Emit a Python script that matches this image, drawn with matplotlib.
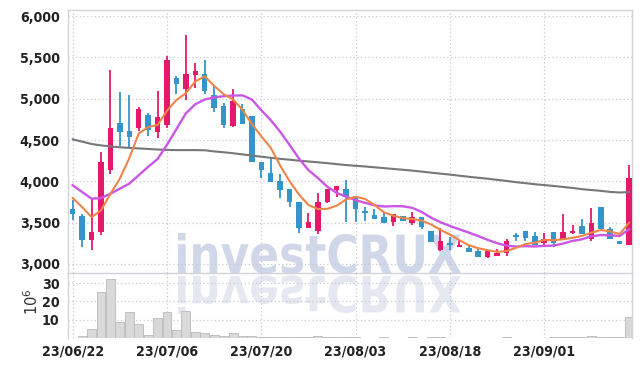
import numpy as np
import matplotlib
matplotlib.use('Agg')
import matplotlib.pyplot as plt
from matplotlib.textpath import TextPath
from matplotlib.patches import PathPatch
from matplotlib.font_manager import FontProperties
from matplotlib.transforms import Affine2D

# daily candles, 60 trading days
opens = [3660, 3579, 3291, 3385, 4143, 4711, 4613, 4642, 4804, 4597,
         4682, 5246, 5116, 5290, 5294, 5047, 4917, 4670, 4873, 4788,
         4230, 4097, 4000, 3907, 3754, 3432, 3404, 3746, 3895, 3907,
         3827, 3637, 3593, 3565, 3504, 3577, 3496, 3565, 3404, 3170,
         3257, 3204, 3192, 3152, 3083, 3099, 3135, 3346, 3398, 3334,
         3257, 3386, 3293, 3374, 3459, 3305, 3689, 3418, 3277, 3224]
highs = [3770, 3607, 3790, 4358, 5351, 5075, 5047, 4897, 4832, 5096,
         5522, 5278, 5765, 5428, 5465, 5160, 4946, 5120, 4933, 4792,
         4230, 4290, 4089, 3907, 3754, 3617, 3859, 3907, 3948, 4020,
         3827, 3694, 3666, 3633, 3605, 3577, 3625, 3565, 3404, 3432,
         3325, 3285, 3224, 3176, 3152, 3176, 3305, 3378, 3398, 3386,
         3378, 3386, 3600, 3475, 3548, 3681, 3689, 3447, 3277, 4202]
lows = [3530, 3210, 3174, 3345, 4087, 4426, 4398, 4613, 4552, 4528,
        4642, 5055, 4986, 5128, 5055, 4844, 4642, 4662, 4694, 4228,
        4040, 3988, 3794, 3686, 3375, 3432, 3363, 3738, 3807, 3504,
        3504, 3524, 3545, 3496, 3464, 3516, 3472, 3424, 3263, 3162,
        3164, 3204, 3143, 3083, 3075, 3099, 3095, 3277, 3277, 3232,
        3200, 3200, 3293, 3366, 3358, 3277, 3418, 3305, 3236, 3224]
closes = [3605, 3291, 3385, 4236, 4650, 4601, 4532, 4877, 4621, 4780,
          5465, 5177, 5294, 5331, 5088, 4885, 4678, 4978, 4694, 4236,
          4135, 3988, 3899, 3746, 3432, 3504, 3746, 3907, 3940, 3807,
          3666, 3613, 3545, 3496, 3605, 3516, 3565, 3444, 3263, 3275,
          3232, 3224, 3143, 3083, 3152, 3131, 3277, 3330, 3317, 3232,
          3305, 3257, 3386, 3398, 3358, 3495, 3418, 3305, 3236, 4040]
# volume in millions
volumes = [0.0, 1.1, 4.9, 25.0, 32.0, 8.6, 14.0, 7.5, 1.5, 10.7,
           14.0, 4.2, 14.7, 3.3, 2.5, 1.5, 0.9, 2.5, 1.1, 0.9,
           0.5, 0.5, 0.4, 0.4, 0.3, 0.3, 1.1, 0.5, 0.3, 0.3,
           0.3, 0.2, 0.2, 0.3, 0.2, 0.2, 0.3, 0.2, 0.3, 0.3,
           0.2, 0.2, 0.2, 0.2, 0.2, 0.2, 0.3, 0.2, 0.2, 0.2,
           0.2, 0.3, 0.7, 0.3, 0.3, 1.1, 0.7, 0.3, 0.3, 11.3]
# moving averages
ma_short = [3798, 3689, 3567, 3648, 3850, 4033, 4281, 4579, 4656, 4682,
            4855, 4984, 5067, 5209, 5271, 5155, 5055, 4992, 4865, 4694,
            4544, 4406, 4190, 4001, 3840, 3714, 3665, 3667, 3706, 3781,
            3813, 3787, 3714, 3625, 3585, 3555, 3545, 3525, 3479, 3413,
            3356, 3288, 3227, 3191, 3167, 3147, 3157, 3195, 3241, 3257,
            3292, 3288, 3299, 3316, 3341, 3379, 3411, 3395, 3362, 3499]
ma_mid = [3952, 3871, 3790, 3798, 3851, 3912, 3972, 4074, 4175, 4270,
          4444, 4632, 4823, 4933, 4990, 5015, 5030, 5038, 5040, 4990,
          4860, 4740, 4600, 4440, 4275, 4135, 4040, 3935, 3860, 3815,
          3772, 3740, 3710, 3695, 3700, 3698, 3680, 3630, 3560, 3505,
          3460, 3420, 3380, 3338, 3292, 3252, 3222, 3211, 3216, 3212,
          3219, 3223, 3247, 3279, 3299, 3336, 3350, 3347, 3339, 3420]
ma_long = [4508, 4480, 4452, 4435, 4422, 4412, 4405, 4398, 4392, 4385,
           4380, 4378, 4378, 4378, 4376, 4362, 4352, 4340, 4326, 4312,
           4298, 4285, 4272, 4262, 4250, 4240, 4230, 4220, 4208, 4197,
           4188, 4180, 4170, 4160, 4150, 4140, 4130, 4118, 4105, 4093,
           4082, 4068, 4055, 4043, 4032, 4018, 4005, 3990, 3978, 3965,
           3955, 3944, 3932, 3920, 3905, 3895, 3885, 3872, 3865, 3870]
date_ticks = [0, 10, 20, 30, 40, 50]
date_labels = ['23/06/22', '23/07/06', '23/07/20', '23/08/03', '23/08/18', '23/09/01']
price_ticks = [3000, 3500, 4000, 4500, 5000, 5500, 6000]
vol_ticks = [10, 20, 30]

W, H = 642, 367
RED, BLUE = '#e5186a', '#3395c9'
GRID = '#c6c8d8'
FRAME = '#d2d2da'
tick_fp = FontProperties(family='DejaVu Sans', stretch='condensed', weight='bold', size=10.2)

fig = plt.figure(figsize=(W / 100, H / 100), dpi=100)
fig.patch.set_facecolor('white')


def px_axes(l, t, r, b, **kw):
    return fig.add_axes([l / W, 1 - b / H, (r - l) / W, (b - t) / H], **kw)


ax = px_axes(68, 10, 632.3, 273)
axv = px_axes(68, 273, 632.3, 338, sharex=ax)

# watermark and its reflection
fp = FontProperties(family='DejaVu Sans', weight='bold')
tp = TextPath((0, 0), 'investCRUX', size=1, prop=fp)
ext = tp.get_extents()
sx = 283 / ext.width
sy = 40 / ext.y1
to_fig = Affine2D().scale(1 / W, 1 / H) + fig.transFigure
wm = PathPatch(tp, facecolor='#d0d7e8', edgecolor='none', zorder=-1,
               transform=Affine2D().translate(-ext.x0, 0).scale(sx, sy).translate(178, H - 273) + to_fig)
wm2 = PathPatch(tp, facecolor='#e6e8f1', edgecolor='none', zorder=-1,
                transform=Affine2D().translate(-ext.x0, 0).scale(sx, -sy * 0.95).translate(178, H - 276) + to_fig)
fig.add_artist(wm)
fig.add_artist(wm2)

x = np.arange(len(closes))
o = np.array(opens)
c = np.array(closes)
cols = [RED if cc >= oo else BLUE for oo, cc in zip(o, c)]

for a in (ax, axv):
    a.set_facecolor('none')
    a.set_axisbelow(True)
    a.grid(True, color=GRID, linestyle=(0, (1, 2)), linewidth=0.9)
    a.tick_params(length=0, colors='#222222')
    for s in a.spines.values():
        s.set_color(FRAME)
        s.set_linewidth(1.0)

ax.vlines(x, lows, highs, colors=cols, linewidth=1.3, zorder=3)
ax.bar(x, np.maximum(np.abs(c - o), 8), bottom=np.minimum(o, c), width=0.58,
       color=cols, linewidth=0, zorder=4)
ax.plot(x, ma_long, color='#777777', lw=1.5, zorder=5)
ax.plot(x, ma_mid, color='#c957e6', lw=1.7, zorder=6)
ax.plot(x, ma_short, color='#ee8548', lw=1.5, zorder=7)

ax.set_xlim(-0.5, 59.34)
ax.set_ylim(2891, 6073)
ax.set_yticks(price_ticks)
ax.set_yticklabels([f'{p:,}' for p in price_ticks], fontproperties=tick_fp)
ax.set_xticks(date_ticks)
ax.tick_params(axis='x', labelbottom=False)
ax.tick_params(axis='y', pad=6)

axv.bar(x, volumes, width=0.95, color='#d9d9d9', edgecolor='#b9b9b9', linewidth=0.6, zorder=2)
axv.set_ylim(0, 35.5)
axv.set_yticks(vol_ticks)
axv.set_yticklabels([str(v) for v in vol_ticks], fontproperties=tick_fp)
axv.set_xticks(date_ticks)
axv.set_xticklabels(date_labels, fontproperties=tick_fp)
axv.tick_params(axis='y', pad=6)
axv.tick_params(axis='x', pad=5)
axv.spines['bottom'].set_visible(False)
axv.spines['top'].set_visible(False)

fig.text(32 / W, 1 - 302 / H, r'$10^6$', rotation=90, ha='center', va='center',
         fontsize=10.5, color='#333333')

fig.savefig('out.png', dpi=100)
